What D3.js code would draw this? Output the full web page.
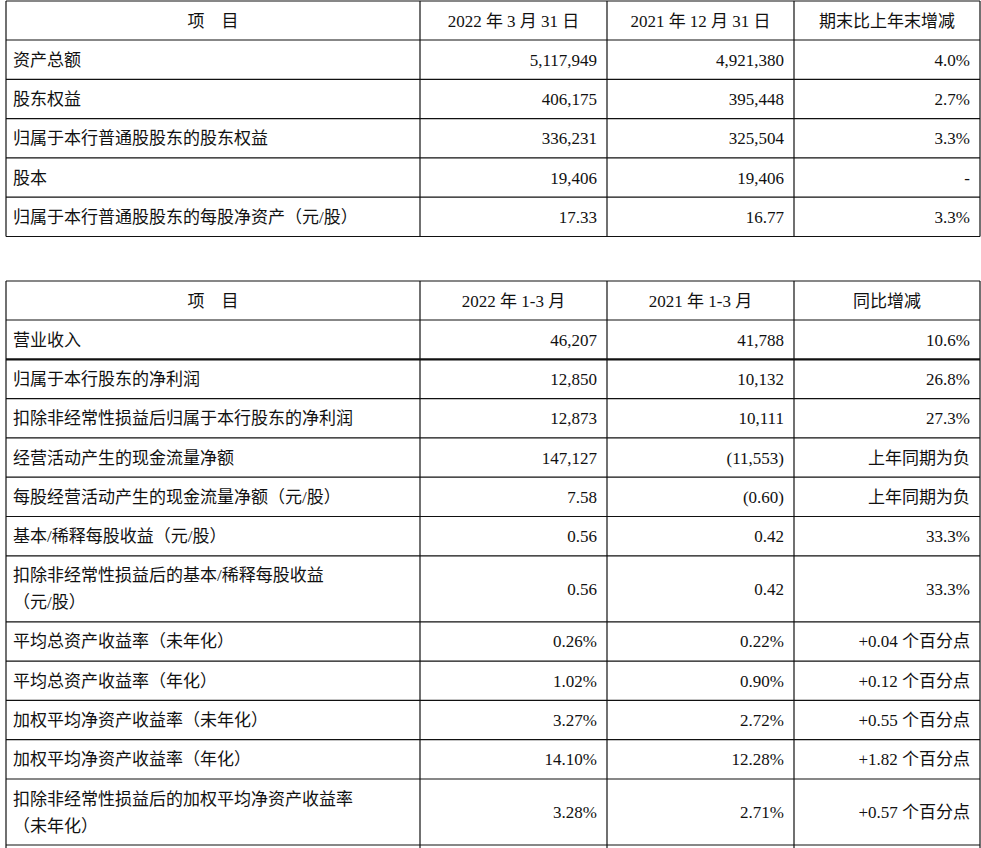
<!DOCTYPE html><html><head><meta charset="utf-8">
<script src="https://cdn.jsdelivr.net/npm/d3@7"></script>
<style>body{margin:0;background:#fff}svg text{font-family:"Liberation Serif","Noto Sans CJK SC",serif;font-size:17px;fill:#111}</style></head><body>
<script>
const header1=["项　目","2022 年 3 月 31 日","2021 年 12 月 31 日","期末比上年末增减"];
const items1=["资产总额","股东权益","归属于本行普通股股东的股东权益","股本","归属于本行普通股股东的每股净资产（元/股）"];
const col1a=["5,117,949","406,175","336,231","19,406","17.33"];
const col1b=["4,921,380","395,448","325,504","19,406","16.77"];
const col1c=["4.0%","2.7%","3.3%","-","3.3%"];
const header2=["项　目","2022 年 1-3 月","2021 年 1-3 月","同比增减"];
const items2=["营业收入","归属于本行股东的净利润","扣除非经常性损益后归属于本行股东的净利润","经营活动产生的现金流量净额","每股经营活动产生的现金流量净额（元/股）","基本/稀释每股收益（元/股）","扣除非经常性损益后的基本/稀释每股收益|（元/股）","平均总资产收益率（未年化）","平均总资产收益率（年化）","加权平均净资产收益率（未年化）","加权平均净资产收益率（年化）","扣除非经常性损益后的加权平均净资产收益率|（未年化）"];
const col2a=["46,207","12,850","12,873","147,127","7.58","0.56","0.56","0.26%","1.02%","3.27%","14.10%","3.28%"];
const col2b=["41,788","10,132","10,111","(11,553)","(0.60)","0.42","0.42","0.22%","0.90%","2.72%","12.28%","2.71%"];
const col2c=["10.6%","26.8%","27.3%","上年同期为负","上年同期为负","33.3%","33.3%","+0.04 个百分点","+0.12 个百分点","+0.55 个百分点","+1.82 个百分点","+0.57 个百分点"];

const svg=d3.select("body").append("svg").attr("width",981).attr("height",848);
const xs=[6,420,607,794,980];
function table(top,header,items,a,b,c,extraBottom,thick){
  const rows=[{cells:header,h:39,head:true}].concat(items.map((t,i)=>({cells:[t,a[i],b[i],c[i]],h:t.includes("|")?66:39.3})));
  let y=top;const g=svg.append("g");
  const ys=[y];rows.forEach(r=>{r.y=y;y+=r.h;ys.push(y);});
  const bottom=extraBottom?848:y;
  ys.forEach((yy,i)=>g.append("line").attr("x1",xs[0]).attr("x2",xs[4]).attr("y1",yy).attr("y2",yy).attr("stroke","#111").attr("stroke-width",(thick&&i===2)?2.2:1.2));
  xs.forEach(x=>g.append("line").attr("x1",x).attr("x2",x).attr("y1",top).attr("y2",bottom).attr("stroke","#111").attr("stroke-width",1.2));
  rows.forEach(r=>{
    r.cells.forEach((t,j)=>{
      const cy=r.y+r.h/2;
      if(r.head){g.append("text").attr("x",(xs[j]+xs[j+1])/2).attr("y",cy+6).attr("text-anchor","middle").text(t);}
      else if(j===0){
        const parts=t.split("|");
        parts.forEach((p,k)=>g.append("text").attr("x",xs[0]+7).attr("y",cy+6+(k-(parts.length-1)/2)*27).text(p));
      } else g.append("text").attr("x",xs[j+1]-10).attr("y",cy+6).attr("text-anchor","end").text(t);
    });
  });
}
table(1,header1,items1,col1a,col1b,col1c,false,false);
table(281,header2,items2,col2a,col2b,col2c,true,true);
</script></body></html>
